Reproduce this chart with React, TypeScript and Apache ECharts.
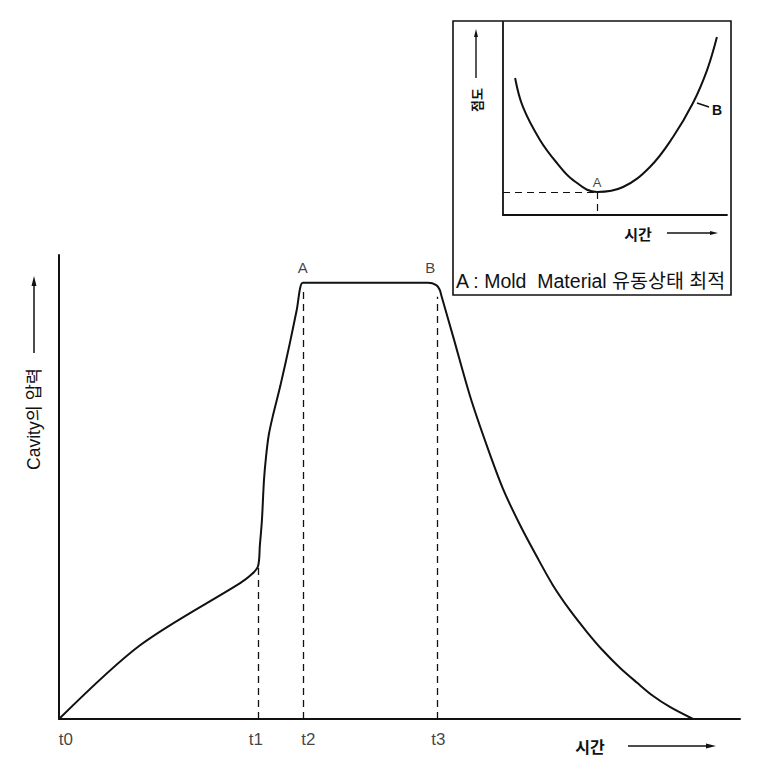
import React, { useEffect, useRef } from "react";
import * as echarts from "echarts";

// Main chart: cavity pressure over time (arbitrary units, 0-100)
const mainTime = [0, 11.9, 26.6, 28.0, 29.2, 29.5, 29.8, 30.1, 30.4, 30.8, 31.4, 32.5, 33.9, 34.9, 35.8, 37.0, 53.0, 54.2, 55.4, 55.9, 56.2, 57.9, 60.4, 62.9, 65.2, 67.7, 70.2, 72.5, 75.0, 77.5, 79.9, 82.4, 84.9, 87.2, 89.7, 93.1];
const mainPressure = [0, 15.9, 29.3, 30.8, 32.8, 37.5, 42.9, 51.5, 56.5, 61.2, 65.3, 71.8, 81.0, 88.1, 94.0, 94.0, 94.0, 94.0, 93.5, 92.5, 91.0, 82.3, 69.4, 58.6, 49.6, 41.8, 34.9, 28.9, 23.5, 18.8, 14.7, 11.0, 7.8, 5.0, 2.6, 0];

// Time markers on the main chart
const tickLabels = ["t0", "t1", "t2", "t3"];
const tickTimes = [1.0, 28.9, 36.6, 55.7];
// Dashed guide lines: time and top pressure
const guideTimes = [29.2, 35.8, 55.5];
const guideTops = [32.8, 92.5, 91.0];
// Point labels on main curve
const pointLabels = ["A", "B"];
const pointTimes = [35.8, 54.5];
const pointValues = [94.0, 94.0];

// Inset chart: viscosity over time
const insetTime = [5.4, 8.9, 16.5, 24.1, 31.3, 42.0, 53.6, 65.6, 75.9, 84.8, 91.1, 95.5];
const insetValue = [71.0, 56.0, 38.9, 26.9, 18.1, 11.9, 14.5, 24.9, 40.4, 58.0, 75.1, 92.2];
const insetMinTime = 42.0;
const insetMinValue = 11.9;

const FONT = "'Liberation Sans', Arial, 'Noto Sans CJK KR', sans-serif";
const KFONT = "'Noto Sans CJK KR', 'Liberation Sans', sans-serif";

export default function App() {
  const ref = useRef<HTMLDivElement>(null);

  useEffect(() => {
    if (!ref.current) return;
    const chart = echarts.init(ref.current, null, { renderer: "svg" });

    const mainData = mainTime.map((t, i) => [t, mainPressure[i]]);
    const insetData = insetTime.map((t, i) => [t, insetValue[i]]);
    const dash = { type: [7, 5] as any, color: "#111", width: 1.3 };

    const axisBase = (gridIndex: number, w: number) => ({
      type: "value" as const,
      gridIndex,
      min: 0,
      max: 100,
      axisLine: { show: true, onZero: false, lineStyle: { color: "#111", width: w } },
      axisTick: { show: false },
      axisLabel: { show: false },
      splitLine: { show: false },
    });

    const txt = (text: string, x: number, y: number, size: number, opts: any = {}) => ({
      type: "text",
      x,
      y,
      rotation: opts.rotation || 0,
      style: {
        text,
        fontSize: size,
        fontFamily: opts.family || FONT,
        fontWeight: opts.weight || "normal",
        fill: "#111",
        align: opts.align || "center",
        verticalAlign: "middle",
      },
    });

    const option: any = {
      animation: false,
      backgroundColor: "#fff",
      grid: [
        { left: 59, top: 255, width: 681, height: 464 },
        { left: 503, top: 22, width: 224, height: 193 },
      ],
      xAxis: [axisBase(0, 2), axisBase(1, 1.8)],
      yAxis: [axisBase(0, 2), axisBase(1, 1.8)],
      series: [
        {
          type: "line",
          xAxisIndex: 0,
          yAxisIndex: 0,
          data: mainData,
          showSymbol: false,
          smooth: 0.3,
          lineStyle: { color: "#111", width: 2 },
          markLine: {
            silent: true,
            symbol: "none",
            label: { show: false },
            lineStyle: dash,
            data: guideTimes.map((t, i) => [{ coord: [t, 0] }, { coord: [t, guideTops[i]] }]),
          },
        },
        {
          type: "scatter",
          xAxisIndex: 0,
          yAxisIndex: 0,
          symbolSize: 0,
          itemStyle: { color: "#111" },
          data: tickTimes.map((t, i) => ({ value: [t, 0], name: tickLabels[i] })),
          label: {
            show: true,
            position: "bottom",
            distance: 12,
            formatter: "{b}",
            fontFamily: FONT,
            fontSize: 17,
            color: "#111",
          },
        },
        {
          type: "scatter",
          xAxisIndex: 0,
          yAxisIndex: 0,
          symbolSize: 0,
          itemStyle: { color: "#111" },
          data: pointTimes.map((t, i) => ({ value: [t, pointValues[i]], name: pointLabels[i] })),
          label: {
            show: true,
            position: "top",
            distance: 8,
            formatter: "{b}",
            fontFamily: FONT,
            fontSize: 15,
            color: "#111",
          },
        },
        {
          type: "line",
          xAxisIndex: 1,
          yAxisIndex: 1,
          data: insetData,
          showSymbol: false,
          smooth: 0.4,
          lineStyle: { color: "#111", width: 2 },
          markLine: {
            silent: true,
            symbol: "none",
            label: { show: false },
            lineStyle: { ...dash, width: 1.2 },
            data: [
              [{ coord: [0, insetMinValue] }, { coord: [insetMinTime, insetMinValue] }],
              [{ coord: [insetMinTime, insetMinValue] }, { coord: [insetMinTime, 0] }],
            ],
          },
        },
        {
          type: "scatter",
          xAxisIndex: 1,
          yAxisIndex: 1,
          symbolSize: 0,
          itemStyle: { color: "#111" },
          data: [{ value: [insetMinTime, insetMinValue], name: "A" }],
          label: {
            show: true,
            position: "top",
            distance: 3,
            formatter: "{b}",
            fontFamily: FONT,
            fontSize: 13,
            color: "#111",
          },
        },
      ],
      graphic: [
        // inset frame
        {
          type: "rect",
          shape: { x: 453, y: 21, width: 278, height: 274 },
          style: { fill: "none", stroke: "#111", lineWidth: 1.6 },
        },
        // main y label + arrow
        txt("Cavity의 압력", 34, 419, 17.5, { rotation: Math.PI / 2 }),
        { type: "line", shape: { x1: 34, y1: 353, x2: 34, y2: 282 }, style: { stroke: "#111", lineWidth: 1.5 } },
        { type: "polygon", shape: { points: [[34, 276], [31.5, 286], [36.5, 286]] }, style: { fill: "#111" } },
        // main x label + arrow
        txt("시간", 590, 746, 16, { family: KFONT, weight: "bold" }),
        { type: "line", shape: { x1: 628, y1: 746, x2: 710, y2: 746 }, style: { stroke: "#111", lineWidth: 1.5 } },
        { type: "polygon", shape: { points: [[716, 746], [706, 743.5], [706, 748.5]] }, style: { fill: "#111" } },
        // inset y label + arrow
        txt("점도", 476, 100, 13, { family: KFONT, weight: "bold", rotation: Math.PI / 2 }),
        { type: "line", shape: { x1: 476, y1: 78, x2: 476, y2: 35 }, style: { stroke: "#111", lineWidth: 1.4 } },
        { type: "polygon", shape: { points: [[476, 29], [474, 37], [478, 37]] }, style: { fill: "#111" } },
        // inset x label + arrow
        txt("시간", 638, 233, 15, { family: KFONT, weight: "bold" }),
        { type: "line", shape: { x1: 667, y1: 233, x2: 713, y2: 233 }, style: { stroke: "#111", lineWidth: 1.4 } },
        { type: "polygon", shape: { points: [[718, 233], [710, 231], [710, 235]] }, style: { fill: "#111" } },
        // B leader and label
        { type: "line", shape: { x1: 697, y1: 103, x2: 709, y2: 107 }, style: { stroke: "#111", lineWidth: 1.4 } },
        txt("B", 712, 110, 14, { weight: "bold", align: "left" }),
        // legend line
        txt("A : Mold  Material 유동상태 최적", 456, 281, 19.5, { align: "left" }),
      ],
    };

    chart.setOption(option);
    return () => chart.dispose();
  }, []);

  return <div ref={ref} style={{ position: "fixed", left: 0, top: 0, width: 763, height: 774 }} />;
}
